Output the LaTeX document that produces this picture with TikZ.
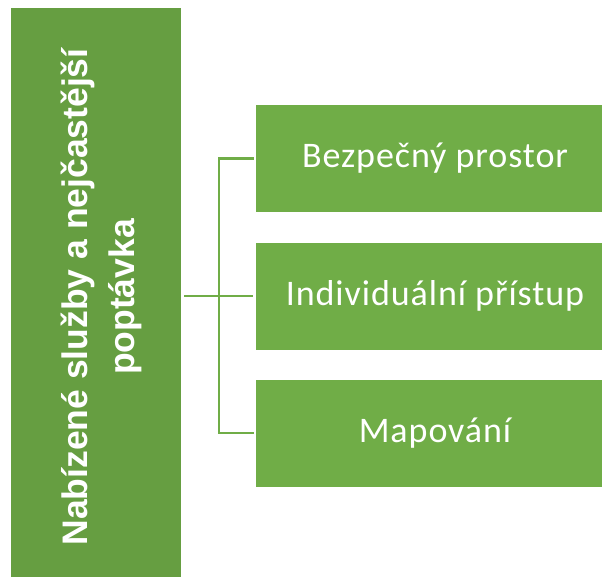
\documentclass[tikz,border=0pt]{standalone}
\usepackage{fontspec}
\setmainfont{Carlito}
\newfontfamily\itemfont{Carlito}[LetterSpace=2.6]
\newfontfamily\arialbold{Liberation Sans}[BoldFont={Liberation Sans Bold}]
\definecolor{leftgreen}{HTML}{669E41}
\definecolor{boxgreen}{HTML}{70AD47}
\begin{document}
\begin{tikzpicture}[x=1pt,y=1pt,
  mainbox/.style={rectangle, fill=leftgreen, draw=none, minimum width=170pt, minimum height=569pt, inner sep=0pt},
  itembox/.style={rectangle, fill=boxgreen, draw=none, minimum width=346pt, minimum height=107pt, inner sep=0pt,
     text=white, font=\itemfont\fontsize{36}{40}\selectfont, execute at begin node={\hspace*{12pt}}},
  maintext/.style={rotate=90, text=white, align=center, font=\arialbold\bfseries\fontsize{35.5}{47}\selectfont},
  conn/.style={draw=boxgreen, line width=2.2pt}]
\useasboundingbox (0,0) rectangle (603,-578);
\node[mainbox] (main) at (96,-292.5) {};
\node[maintext] (mtext) at (101,-297) {Nabízené služby a nejčastější\\poptávka};
\node[itembox] (b1) at (429,-158.5) {Bezpečný prostor};
\node[itembox] (b2) at (429,-296) {Individuální přístup};
\node[itembox] (b3) at (429,-433) {Mapování};
\coordinate (jt) at (219,-158.5);
\coordinate (jb) at (219,-433);
\draw[conn, shorten <=3pt, shorten >=3pt] (main.east |- b2.west) -- (b2.west);
\draw[conn, shorten >=3pt, line cap=rect] (b1.west) ++(-3pt,0) -- (jt) -- (jb) -- (b3.west);
\end{tikzpicture}
\end{document}
